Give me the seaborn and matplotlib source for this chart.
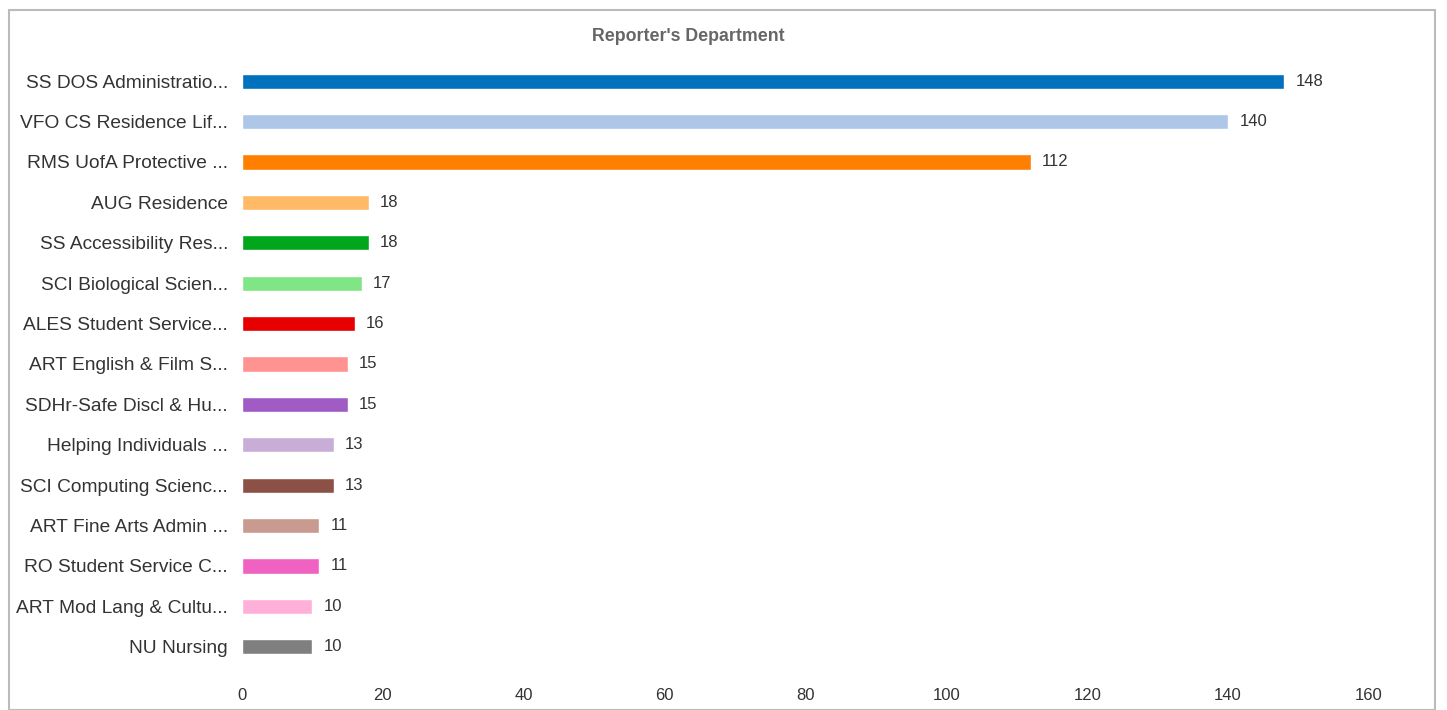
import matplotlib
matplotlib.use('Agg')
import matplotlib.pyplot as plt
import seaborn as sns
import pandas as pd

# Reporter's department counts
departments = [
    'SS DOS Administratio...', 'VFO CS Residence Lif...', 'RMS UofA Protective ...',
    'AUG Residence', 'SS Accessibility Res...', 'SCI Biological Scien...',
    'ALES Student Service...', 'ART English & Film S...', 'SDHr-Safe Discl & Hu...',
    'Helping Individuals ...', 'SCI Computing Scienc...', 'ART Fine Arts Admin ...',
    'RO Student Service C...', 'ART Mod Lang & Cultu...', 'NU Nursing',
]
counts = [148, 140, 112, 18, 18, 17, 16, 15, 15, 13, 13, 11, 11, 10, 10]
colors = [
    '#0071BC', '#AEC7E8', '#FF7F00', '#FFB967', '#00A61C', '#80E584',
    '#E60000', '#FF9392', '#A05CC4', '#C8AED6', '#8C5047', '#C99A90',
    '#F062C2', '#FFB0D8', '#7F7F7F',
]
xticks = [0, 20, 40, 60, 80, 100, 120, 140, 160]

df = pd.DataFrame({'department': departments, 'count': counts})

sns.set_style('white')
plt.rcParams['font.family'] = ['Liberation Sans', 'DejaVu Sans']

fig = plt.figure(figsize=(14.47, 7.10), dpi=100)
ax = fig.add_axes([0.1672, 0.0606, 0.7789, 0.8535])

sns.barplot(data=df, y='department', x='count', hue='department',
            palette=colors, legend=False, width=0.38, saturation=1,
            ax=ax, orient='h')

# value labels at the end of each bar
for i, v in enumerate(counts):
    ax.text(v + 1.6, i, str(v), va='center', ha='left', fontsize=12, color='#333333')

ax.set_xlim(0, 160)
ax.set_ylim(14.5, -0.5)
ax.set_xticks(xticks)
ax.set_xlabel('')
ax.set_ylabel('')
ax.tick_params(axis='y', labelsize=13.8, labelcolor='#333333', length=0, pad=10)
ax.tick_params(axis='x', labelsize=12, labelcolor='#333333', length=0, pad=15)
sns.despine(ax=ax, left=True, bottom=True)

fig.text(0.4755, 0.949, "Reporter's Department", ha='center', va='center',
         fontsize=12.8, fontweight='bold', color='#666666')

# light frame round the chart
frame = plt.Rectangle((0.006, 0.0), 0.986, 0.986, transform=fig.transFigure,
                      fill=False, edgecolor='#BBBBBB', linewidth=1.5)
fig.patches.append(frame)

fig.savefig('out.png', dpi=100)
